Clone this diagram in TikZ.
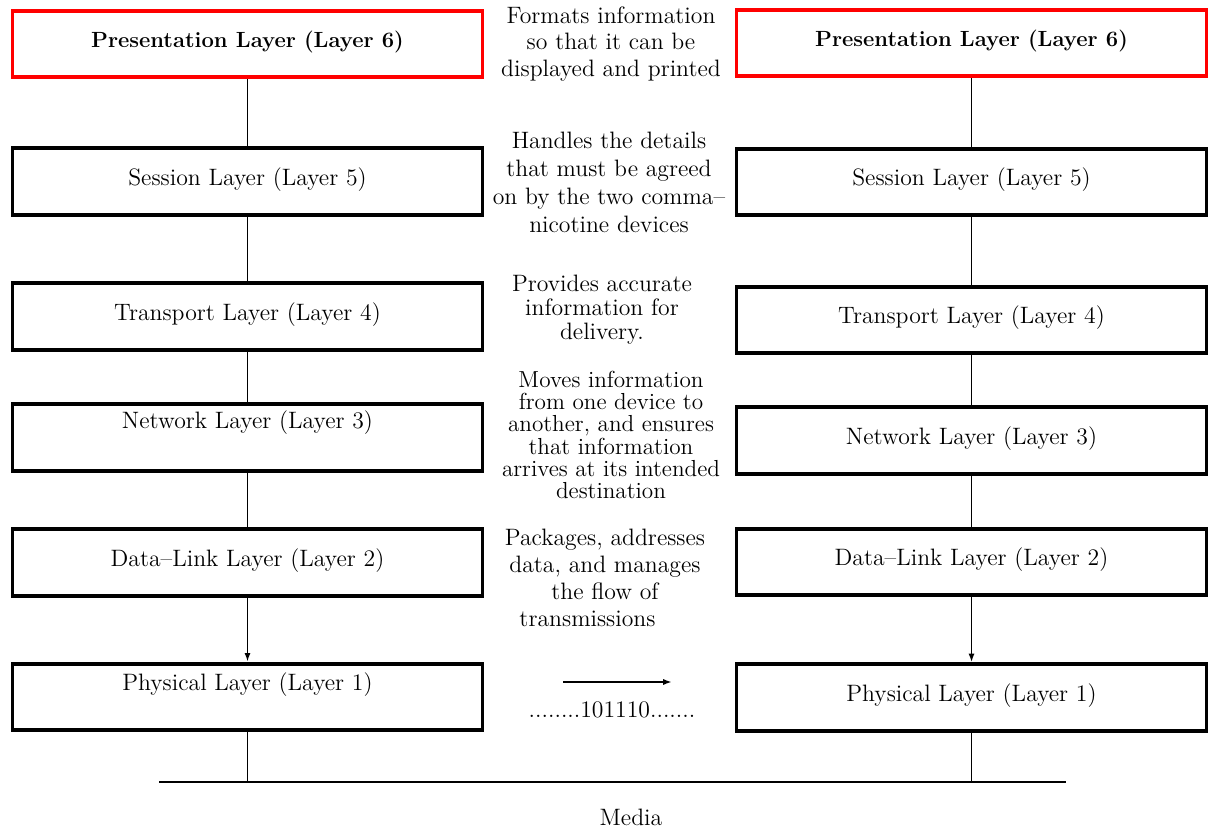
\documentclass[tikz,border=0pt]{standalone}
\usepackage{tikz}
\usetikzlibrary{arrows.meta}
\setlength{\lineskiplimit}{-20pt}
\tikzset{layer/.style={draw, line width=2.2pt, minimum width=9.4cm, minimum height=1.33cm,
    inner sep=0pt, text depth=0.2cm, font=\fontsize{13.5}{16}\selectfont},
  toplayer/.style={layer, draw=red, font=\fontsize{12.5}{15}\selectfont\bfseries},
  lift/.style={text depth=#1},
  note/.style={align=center, inner sep=0pt, font=\fontsize{13.5}{#1}\selectfont},
  link/.style={line width=1.1pt},
  tip/.style={line width=1.1pt, -{Latex[length=5pt,width=3.5pt]}}}

\begin{document}
\begin{tikzpicture}
\useasboundingbox (0,0) rectangle (24.22,-16.58);

%%% pile gauche
\node[toplayer] (L6) at (4.95,-0.88) {Presentation Layer (Layer 6)};
\node[layer] (L5) at (4.95,-3.63) {Session Layer (Layer 5)};
\node[layer] (L4) at (4.95,-6.33) {Transport Layer (Layer 4)};
\node[layer, lift=0.7cm] (L3) at (4.95,-8.75) {Network Layer (Layer 3)};
\node[layer] (L2) at (4.95,-11.25) {Data--Link Layer (Layer 2)};
\node[layer, lift=0.6cm] (L1) at (4.95,-13.94) {Physical Layer (Layer 1)};

%%% pile droite
\node[toplayer] (R6) at (19.43,-0.86) {Presentation Layer (Layer 6)};
\node[layer] (R5) at (19.43,-3.64) {Session Layer (Layer 5)};
\node[layer] (R4) at (19.43,-6.40) {Transport Layer (Layer 4)};
\node[layer] (R3) at (19.43,-8.81) {Network Layer (Layer 3)};
\node[layer] (R2) at (19.43,-11.24) {Data--Link Layer (Layer 2)};
\node[layer] (R1) at (19.43,-13.95) {Physical Layer (Layer 1)};

%%% liens
\draw[link] (L6) -- (L5);
\draw[link] (L5) -- (L4);
\draw[link] (L4) -- (L3);
\draw[link] (L3) -- (L2);
\draw[tip] (L2) -- (L1);
\draw[link] (R6) -- (R5);
\draw[link] (R5) -- (R4);
\draw[link] (R4) -- (R3);
\draw[link] (R3) -- (R2);
\draw[tip] (R2) -- (R1);

%%% textes du milieu
\node[note=15pt] (n6) at (12.22,-0.88) {Formats information\\so that it can be\\displayed and printed};
\node[note=15.9pt] (n5) at (12.18,-3.64) {Handles the details\\that must be agreed\\on by the two comma--\\nicotine devices};
\node[note=13.6pt] (n4) at (12.04,-6.2) {Provides accurate\\information for\\delivery.};
\node[note=12.6pt, font=\fontsize{13.2}{12.6}\selectfont] (n3) at (12.22,-8.7) {Moves information\\from one device to\\another, and ensures\\that information\\arrives at its intended\\destination};
\node[note=15.3pt] (n2) at (12.1,-11.56) {Packages, addresses\\data, and manages\\the flow of\hspace*{0.7cm}\\transmissions\hspace*{0.7cm}};

%%% bits
\coordinate (bitsA) at (11.26,-13.64);
\coordinate (bitsB) at (13.44,-13.64);
\draw[tip] (bitsA) -- (bitsB);
\node[note=15pt] (bits) at (12.24,-14.2) {........101110.......};

%%% media
\coordinate (mediaL) at (3.18,-15.64);
\coordinate (mediaR) at (21.32,-15.64);
\draw[line width=1.5pt] (mediaL) -- (mediaR);
\draw[link] (L1) -- (L1 |- mediaL);
\draw[link] (R1) -- (R1 |- mediaL);
\node[note=15pt] (media) at (12.62,-16.34) {Media};
\end{tikzpicture}
\end{document}
